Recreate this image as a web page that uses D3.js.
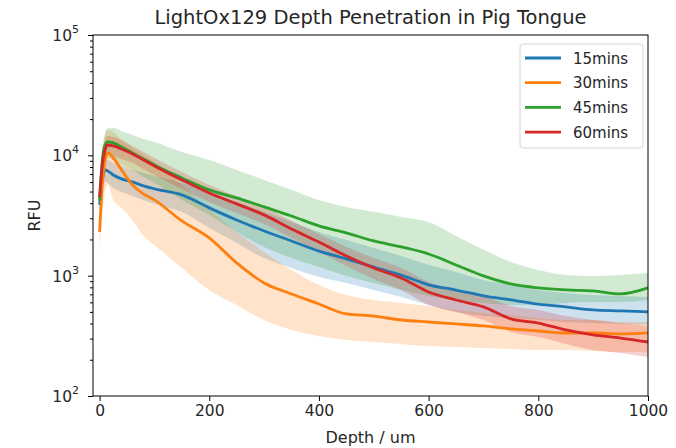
<!DOCTYPE html>
<html>
<head>
<meta charset="utf-8">
<script src="https://cdn.jsdelivr.net/npm/d3@7"></script>
<style>
  body { margin: 0; background: #fff; }
  text { font-family: "DejaVu Sans", sans-serif; fill: #262626; }
</style>
</head>
<body>
<svg id="chart" width="676" height="448"></svg>
<script>
// depth grid (um) shared by every series
var depth = [0, 5, 10, 15, 25, 40, 60, 80, 100, 150, 200, 250, 300, 350, 400, 450, 500, 550, 600, 650, 700, 750, 800, 850, 900, 950, 1000];

var mins15 = [3870, 6250, 7570, 7420, 6870, 6370, 6010, 5570, 5260, 4690, 3660, 2900, 2350, 1940, 1600, 1380, 1180, 1010, 840, 760, 680, 630, 580, 550, 520, 510, 500];
var mins15Lo = [3200, 5160, 6010, 5900, 5360, 4960, 4600, 4260, 3950, 3390, 2490, 1870, 1400, 1160, 975, 870, 760, 665, 570, 500, 462, 445, 428, 412, 404, 397, 389];
var mins15Hi = [4260, 7280, 9160, 9160, 8650, 8170, 7570, 7140, 6740, 5900, 4960, 4100, 3390, 2790, 2310, 1980, 1700, 1460, 1230, 1074, 921, 837, 760, 718, 691, 678, 665];

var mins30 = [2310, 5680, 9160, 10470, 9510, 7570, 5680, 4780, 4260, 2850, 2060, 1276, 869, 705, 582, 481, 462, 428, 412, 397, 382, 361, 347, 334, 334, 328, 334];
var mins30Lo = [1636, 3200, 5160, 5680, 4260, 3656, 2904, 2138, 1800, 1160, 760, 570, 428, 354, 315, 292, 281, 271, 260, 255, 251, 246, 241, 241, 237, 232, 232];
var mins30Hi = [2904, 9160, 14780, 16260, 15660, 13430, 11530, 10070, 8810, 5680, 3520, 2310, 1574, 1115, 837, 691, 628, 593, 560, 519, 490, 471, 445, 428, 428, 412, 412];

var mins45 = [4200, 9160, 12200, 12920, 12680, 11740, 10470, 9330, 8320, 6490, 5160, 4430, 3725, 3135, 2590, 2264, 1943, 1733, 1514, 1228, 995, 853, 791, 761, 747, 705, 791];
var mins45Lo = [3200, 6870, 9160, 9510, 9160, 8320, 7570, 6610, 5900, 4260, 3200, 2310, 1733, 1403, 1181, 995, 869, 760, 678, 628, 593, 570, 570, 593, 604, 604, 628];
var mins45Hi = [4690, 11090, 15350, 16900, 16900, 15960, 14780, 13690, 12920, 10670, 9160, 7570, 6250, 5160, 4260, 3725, 3390, 3080, 2790, 2140, 1640, 1300, 1115, 1014, 995, 1014, 1052];

var mins60 = [4500, 8320, 11090, 12190, 11970, 11300, 10280, 9160, 8170, 6250, 4870, 3950, 3200, 2444, 1905, 1459, 1159, 957, 732, 628, 550, 437, 404, 354, 322, 303, 281];
var mins60Lo = [3656, 6870, 9160, 10070, 9890, 9330, 8650, 7710, 6870, 5260, 4100, 3320, 2690, 2056, 1574, 1205, 940, 760, 570, 499, 428, 340, 309, 271, 241, 228, 211];
var mins60Hi = [5160, 10070, 13430, 14500, 14220, 13430, 11970, 10670, 9510, 7280, 5680, 4600, 3725, 2850, 2220, 1733, 1403, 1159, 887, 760, 678, 560, 519, 462, 428, 404, 382];

var seriesNames = ["15mins", "30mins", "45mins", "60mins"];
var colors = ["#1f77b4", "#ff7f0e", "#2ca02c", "#d62728"];
var xTicks = [0, 200, 400, 600, 800, 1000];
var yTicks = [100, 1000, 10000, 100000];

var series = [
  {name: seriesNames[0], mid: mins15, lo: mins15Lo, hi: mins15Hi},
  {name: seriesNames[1], mid: mins30, lo: mins30Lo, hi: mins30Hi},
  {name: seriesNames[2], mid: mins45, lo: mins45Lo, hi: mins45Hi},
  {name: seriesNames[3], mid: mins60, lo: mins60Lo, hi: mins60Hi}
];

var margins = {top: 35, left: 93, right: 28, bottom: 52};
var width = 676, height = 448;

var svg = d3.select('#chart');

var xScale = d3.scaleLinear()
  .domain([-12, 1000])
  .range([margins.left, width - margins.right]);

var yScale = d3.scaleLog()
  .domain([100, 100000])
  .range([height - margins.bottom, margins.top]);

// bands first, then the lines on top
var area = d3.area()
  .x(function(d){ return xScale(d.x); })
  .y0(function(d){ return yScale(d.lo); })
  .y1(function(d){ return yScale(d.hi); })
  .curve(d3.curveMonotoneX);

var line = d3.line()
  .x(function(d){ return xScale(d.x); })
  .y(function(d){ return yScale(d.y); })
  .curve(d3.curveMonotoneX);

var plot = svg.append('g');

series.forEach(function(s, i){
  var pts = depth.map(function(x, j){ return {x: x, lo: s.lo[j], hi: s.hi[j]}; });
  plot.append('path')
    .attr('d', area(pts))
    .attr('fill', colors[i])
    .attr('fill-opacity', 0.22)
    .attr('stroke', 'none');
});

series.forEach(function(s, i){
  var pts = depth.map(function(x, j){ return {x: x, y: s.mid[j]}; });
  plot.append('path')
    .attr('d', line(pts))
    .attr('fill', 'none')
    .attr('stroke', colors[i])
    .attr('stroke-width', 2.8)
    .attr('stroke-linejoin', 'round');
});

// axes
var xAxis = d3.axisBottom(xScale).tickValues(xTicks).tickSize(5).tickPadding(4).tickFormat(d3.format('d'));
var gx = svg.append('g')
  .attr('class', 'xAxis')
  .attr('transform', 'translate(0,' + (height - margins.bottom) + ')')
  .call(xAxis);
gx.select('.domain').remove();
gx.selectAll('text').style('font-size', '15.5px').style('font-family', '"DejaVu Sans", sans-serif').attr('fill', '#262626');

var minor = [];
[100, 1000, 10000].forEach(function(b){
  for (var k = 2; k <= 9; k++) minor.push(b * k);
});

var yAxisMinor = d3.axisLeft(yScale).tickValues(minor).tickSize(3).tickFormat('');
var gyMinor = svg.append('g')
  .attr('transform', 'translate(' + margins.left + ',0)')
  .call(yAxisMinor);
gyMinor.select('.domain').remove();

var yAxis = d3.axisLeft(yScale).tickValues(yTicks).tickSize(5).tickFormat('');
var gy = svg.append('g')
  .attr('class', 'yAxis')
  .attr('transform', 'translate(' + margins.left + ',0)')
  .call(yAxis);
gy.select('.domain').remove();

var ylab = svg.append('g').selectAll('text').data(yTicks).enter().append('text')
  .attr('x', margins.left - 14)
  .attr('y', function(d){ return yScale(d) + 6; })
  .attr('text-anchor', 'end')
  .style('font-size', '15.5px');
ylab.append('tspan').text('10');
ylab.append('tspan')
  .attr('dy', -8)
  .style('font-size', '11px')
  .text(function(d){ return Math.round(Math.log10(d)); });

// frame
svg.append('rect')
  .attr('x', margins.left)
  .attr('y', margins.top)
  .attr('width', width - margins.left - margins.right)
  .attr('height', height - margins.top - margins.bottom)
  .attr('fill', 'none')
  .attr('stroke', '#000')
  .attr('stroke-width', 1);

// titles
svg.append('text')
  .attr('x', (margins.left + width - margins.right) / 2)
  .attr('y', 24)
  .attr('text-anchor', 'middle')
  .style('font-size', '19.5px')
  .text('LightOx129 Depth Penetration in Pig Tongue');

svg.append('text')
  .attr('x', (margins.left + width - margins.right) / 2)
  .attr('y', 443)
  .attr('text-anchor', 'middle')
  .style('font-size', '16px')
  .text('Depth / um');

svg.append('text')
  .attr('transform', 'translate(40,' + ((margins.top + height - margins.bottom) / 2) + ') rotate(-90)')
  .attr('text-anchor', 'middle')
  .style('font-size', '16px')
  .text('RFU');

// legend
var legend = svg.append('g').attr('transform', 'translate(520,44)');
legend.append('rect')
  .attr('width', 123)
  .attr('height', 104)
  .attr('rx', 3)
  .attr('fill', '#fff')
  .attr('fill-opacity', 0.8)
  .attr('stroke', '#d6d6d6');
var rows = legend.selectAll('.row').data(series).enter().append('g')
  .attr('class', 'row')
  .attr('transform', function(d, i){ return 'translate(0,' + (14 + i * 24.7) + ')'; });
rows.append('line')
  .attr('x1', 5).attr('x2', 41)
  .attr('stroke', function(d, i){ return colors[i]; })
  .attr('stroke-width', 2.8);
rows.append('text')
  .attr('x', 53)
  .attr('y', 5.5)
  .style('font-size', '15px')
  .text(function(d){ return d.name; });
</script>
</body>
</html>
